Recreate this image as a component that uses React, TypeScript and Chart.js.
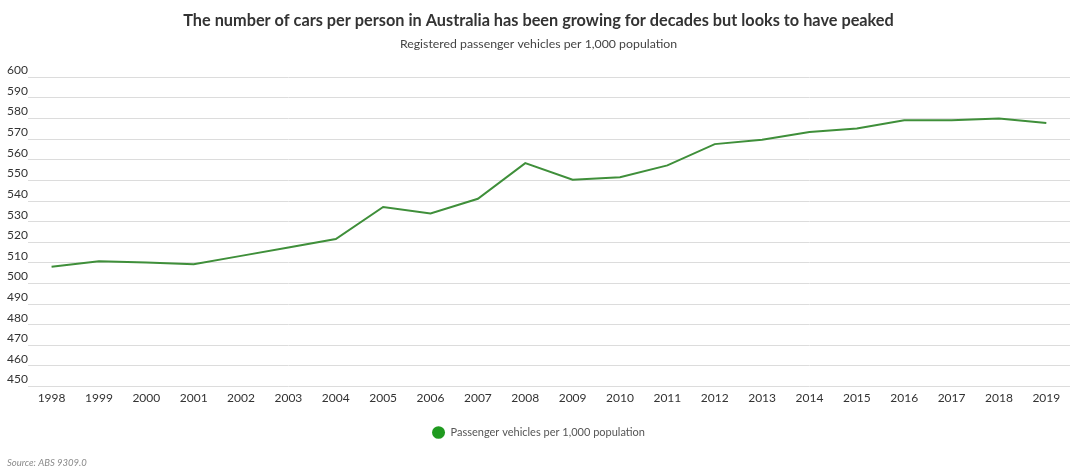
import React, { useEffect, useRef } from "react";
import { Chart, registerables } from "chart.js";

Chart.register(...registerables);

const years: string[] = [
  "1998", "1999", "2000", "2001", "2002", "2003", "2004", "2005", "2006", "2007", "2008",
  "2009", "2010", "2011", "2012", "2013", "2014", "2015", "2016", "2017", "2018", "2019",
];

const vehiclesPer1000: number[] = [
  508.1, 510.8, 510.2, 509.3, 513.4, 517.5, 521.6, 537.1, 534.0, 541.1, 558.4,
  550.3, 551.5, 557.3, 567.6, 569.7, 573.5, 575.2, 579.2, 579.2, 580.0, 577.9,
];

const titleText = "The number of cars per person in Australia has been growing for decades but looks to have peaked";
const subtitleText = "Registered passenger vehicles per 1,000 population";
const seriesLabel = "Passenger vehicles per 1,000 population";
const sourceText = "Source: ABS 9309.0";

const FONT = "Lato, 'Open Sans', sans-serif";

const sourcePlugin = {
  id: "sourceNote",
  afterDraw(chart: any) {
    const ctx = chart.ctx;
    ctx.save();
    ctx.font = `italic 9.5px ${FONT}`;
    ctx.fillStyle = "#8a8a8a";
    ctx.textAlign = "left";
    ctx.textBaseline = "middle";
    ctx.fillText(sourceText, 7, 463);
    ctx.restore();
  },
};

export default function App() {
  const canvasRef = useRef<HTMLCanvasElement | null>(null);

  useEffect(() => {
    if (!canvasRef.current) return;
    const chart = new Chart(canvasRef.current, {
      type: "line",
      data: {
        labels: years,
        datasets: [
          {
            label: seriesLabel,
            data: vehiclesPer1000,
            borderColor: "#3f8f3a",
            backgroundColor: "#1f9a1f",
            borderWidth: 2,
            pointRadius: 0,
            pointHoverRadius: 0,
            tension: 0,
            fill: false,
          },
        ],
      },
      plugins: [sourcePlugin],
      options: {
        responsive: false,
        animation: false,
        layout: { padding: { left: 7, right: 10, top: 0, bottom: 27 } },
        plugins: {
          title: {
            display: true,
            text: titleText,
            color: "#333333",
            font: { family: FONT, size: 16.3, weight: "bold" },
            padding: { top: 11, bottom: 6 },
          },
          subtitle: {
            display: true,
            text: subtitleText,
            color: "#444444",
            font: { family: FONT, size: 12.3 },
            padding: { top: 0, bottom: 26 },
          },
          legend: {
            display: true,
            position: "bottom",
            labels: {
              usePointStyle: true,
              pointStyle: "circle",
              boxHeight: 9,
              pointStyleWidth: 13,
              color: "#555555",
              font: { family: FONT, size: 11 },
              padding: 18,
              generateLabels: () => [
                {
                  text: seriesLabel,
                  fillStyle: "#1f9a1f",
                  strokeStyle: "#1f9a1f",
                  lineWidth: 0,
                  pointStyle: "circle",
                  datasetIndex: 0,
                  hidden: false,
                  fontColor: "#555555",
                },
              ],
            },
          },
          tooltip: { enabled: false },
        },
        scales: {
          x: {
            offset: true,
            grid: { display: false, drawTicks: false },
            border: { display: false },
            ticks: {
              color: "#333333",
              font: { family: FONT, size: 12 },
              padding: 4,
              maxRotation: 0,
              autoSkip: false,
            },
          },
          y: {
            min: 450,
            max: 600,
            grid: { color: "#dcdcdc", lineWidth: 1, drawTicks: false },
            border: { display: false },
            ticks: {
              stepSize: 10,
              color: "#333333",
              font: { family: FONT, size: 12 },
              padding: 0,
              crossAlign: "far",
              labelOffset: -7,
            },
          },
        },
      },
    } as any);
    return () => chart.destroy();
  }, []);

  return (
    <div style={{ position: "absolute", left: 0, top: 0, width: 1080, height: 475, background: "#ffffff" }}>
      <canvas ref={canvasRef} width={1080} height={475} style={{ display: "block" }} />
    </div>
  );
}
